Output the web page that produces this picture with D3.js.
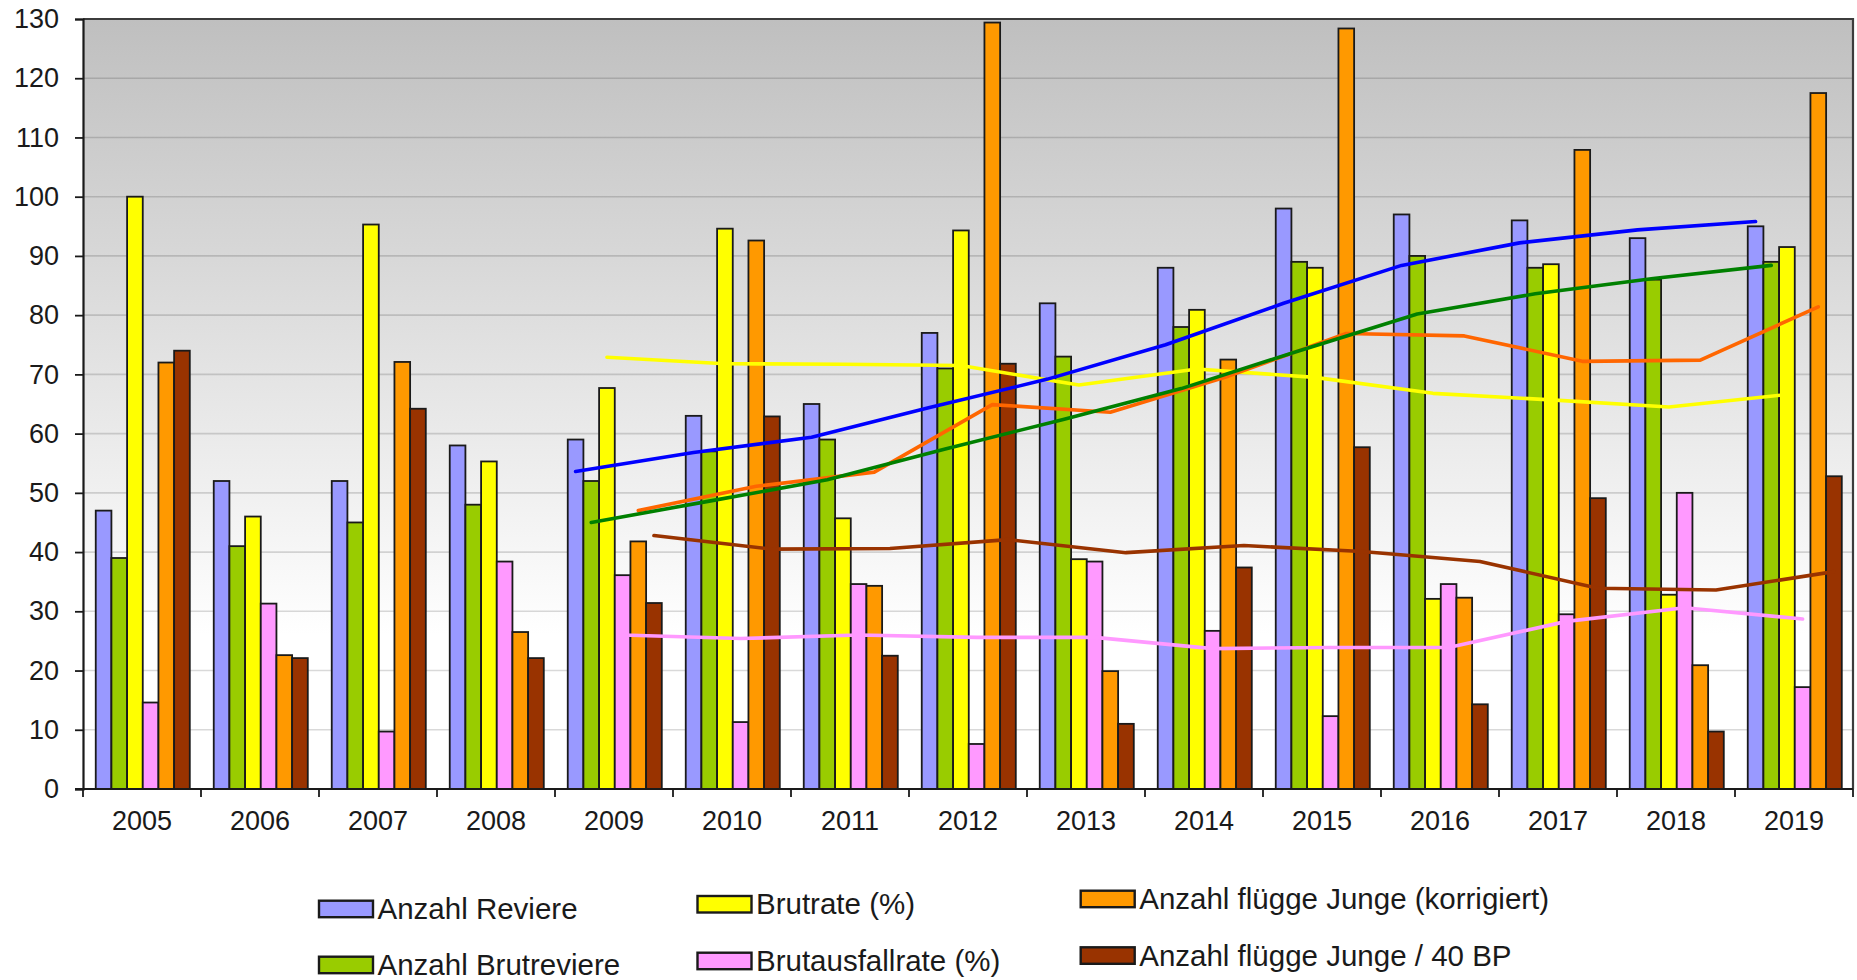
<!DOCTYPE html>
<html>
<head>
<meta charset="utf-8">
<script src="https://cdn.jsdelivr.net/npm/d3@7"></script>
<style>
  html, body { margin: 0; padding: 0; background: #ffffff; }
  svg { display: block; font-family: "Liberation Sans", Arial, sans-serif; }
</style>
</head>
<body>
<svg id="chart" width="1857" height="980"></svg>
<script>
// ---------------- data ----------------
const years = [2005, 2006, 2007, 2008, 2009, 2010, 2011, 2012, 2013, 2014, 2015, 2016, 2017, 2018, 2019];
const yTicks = [0, 10, 20, 30, 40, 50, 60, 70, 80, 90, 100, 110, 120, 130];

const seriesNames = [
  "Anzahl Reviere",
  "Anzahl Brutreviere",
  "Brutrate (%)",
  "Brutausfallrate (%)",
  "Anzahl flügge Junge (korrigiert)",
  "Anzahl flügge Junge / 40 BP"
];
const anzahlReviere      = [47, 52, 52, 58, 59, 63, 65, 77, 82, 88, 98, 97, 96, 93, 95];
const anzahlBrutreviere  = [39, 41, 45, 48, 52, 57, 59, 71, 73, 78, 89, 90, 88, 86, 89];
const brutrate           = [100, 46, 95.3, 55.3, 67.7, 94.6, 45.7, 94.3, 38.8, 80.9, 88, 32.1, 88.6, 32.8, 91.5];
const brutausfallrate    = [14.6, 31.3, 9.7, 38.4, 36.1, 11.3, 34.6, 7.6, 38.4, 26.7, 12.3, 34.6, 29.5, 50, 17.2];
const jungeKorrigiert    = [72, 22.6, 72.1, 26.5, 41.8, 92.6, 34.3, 129.4, 19.9, 72.5, 128.4, 32.3, 107.9, 20.9, 117.5];
const junge40BP          = [74, 22.1, 64.2, 22.1, 31.4, 62.9, 22.5, 71.8, 11, 37.4, 57.7, 14.3, 49.1, 9.7, 52.8];

// trend lines, 2009..2019
const trendYears            = [2009, 2010, 2011, 2012, 2013, 2014, 2015, 2016, 2017, 2018, 2019];
const trendReviere          = [53.6, 56.8, 59.4, 64.4, 69.2, 75.0, 82.0, 88.4, 92.2, 94.4, 95.8];
const trendBrutreviere      = [45.0, 48.6, 52.2, 57.4, 62.4, 67.6, 74.0, 80.2, 83.6, 86.2, 88.4];
const trendBrutrate         = [72.9, 71.8, 71.7, 71.5, 68.2, 70.9, 69.5, 66.8, 65.7, 64.5, 66.6];
const trendBrutausfallrate  = [26.0, 25.4, 26.0, 25.6, 25.6, 23.7, 23.9, 23.9, 28.3, 30.6, 28.7];
const trendJungeKorrigiert  = [47.0, 51.1, 53.5, 64.9, 63.6, 69.7, 76.9, 76.5, 72.2, 72.4, 81.4];
const trendJunge40BP        = [42.8, 40.5, 40.6, 42.1, 39.9, 41.1, 40.1, 38.4, 33.9, 33.6, 36.7];

// ---------------- styles ----------------
const barColors  = ["#9999ff", "#99cc00", "#ffff00", "#ff99ff", "#ff9900", "#993300"];
const lineColors = ["#0000ff", "#008000", "#ffff00", "#ff99ff", "#ff6600", "#993300"];

const seriesValues = [anzahlReviere, anzahlBrutreviere, brutrate, brutausfallrate, jungeKorrigiert, junge40BP];
const trendValues  = [trendReviere, trendBrutreviere, trendBrutrate, trendBrutausfallrate, trendJungeKorrigiert, trendJunge40BP];

const plot = { left: 83, right: 1853, top: 19, bottom: 789 };

const svg = d3.select("#chart");

const x0 = d3.scaleBand().domain(years).range([plot.left, plot.right]).padding(0);
const bw = x0.bandwidth();
const x1 = d3.scaleBand().domain(d3.range(seriesNames.length)).range([bw * 0.108, bw * 0.905]).padding(0);
const y = d3.scaleLinear().domain([0, 130]).range([plot.bottom, plot.top]);

// background gradient
const defs = svg.append("defs");
const grad = defs.append("linearGradient").attr("id", "bg").attr("x1", 0).attr("y1", 0).attr("x2", 0).attr("y2", 1);
grad.append("stop").attr("offset", "0%").attr("stop-color", "#bfbfbf");
grad.append("stop").attr("offset", "80%").attr("stop-color", "#ffffff");
grad.append("stop").attr("offset", "100%").attr("stop-color", "#ffffff");

svg.append("rect")
  .attr("x", plot.left).attr("y", plot.top)
  .attr("width", plot.right - plot.left).attr("height", plot.bottom - plot.top)
  .attr("fill", "url(#bg)");

// gridlines
svg.append("g").selectAll("line").data(yTicks.filter(d => d > 0 && d < 130)).join("line")
  .attr("x1", plot.left).attr("x2", plot.right)
  .attr("y1", d => y(d)).attr("y2", d => y(d))
  .attr("stroke", "#000").attr("stroke-opacity", 0.15).attr("stroke-width", 1.6);

// bars
const groups = svg.append("g").selectAll("g").data(years).join("g")
  .attr("transform", d => `translate(${x0(d)},0)`);
groups.selectAll("rect")
  .data((yr, i) => seriesValues.map((arr, s) => ({ s, v: arr[i] })))
  .join("rect")
  .attr("x", d => x1(d.s))
  .attr("y", d => y(d.v))
  .attr("width", x1.bandwidth())
  .attr("height", d => y(0) - y(d.v))
  .attr("fill", d => barColors[d.s])
  .attr("stroke", "#1a1a1a")
  .attr("stroke-width", 1.8);

// plot frame (top & right dark gray)
svg.append("path")
  .attr("d", `M${plot.left},${plot.top}H${plot.right}V${plot.bottom}`)
  .attr("fill", "none").attr("stroke", "#3c3c3c").attr("stroke-width", 2.2);

// trend lines
const lineOrder = [2, 3, 5, 4, 1, 0];
lineOrder.forEach(s => {
  const pts = trendYears.map((yr, i) => [x0(yr) + x1(s) + x1.bandwidth() / 2, y(trendValues[s][i])]);
  svg.append("path")
    .datum(pts)
    .attr("d", d3.line())
    .attr("fill", "none")
    .attr("stroke", lineColors[s])
    .attr("stroke-width", 3.6)
    .attr("stroke-linejoin", "round")
    .attr("stroke-linecap", "round");
});

// y axis
const yAxis = d3.axisLeft(y).tickValues(yTicks).tickSize(8).tickPadding(16).tickFormat(d3.format("d"));
const gy = svg.append("g").attr("transform", `translate(${plot.left},0)`).call(yAxis);
gy.select(".domain").attr("stroke", "#1a1a1a").attr("stroke-width", 2.2);
gy.selectAll(".tick line").attr("stroke", "#1a1a1a").attr("stroke-width", 1.8);
gy.selectAll(".tick text").attr("font-size", 27).attr("fill", "#1a1a1a")
  .attr("font-family", "'Liberation Sans', Arial, sans-serif");

// x axis (labels centred, ticks at category boundaries)
const xAxis = d3.axisBottom(x0).tickSize(0).tickPadding(22);
const gx = svg.append("g").attr("transform", `translate(0,${plot.bottom})`).call(xAxis);
gx.select(".domain").remove();
gx.selectAll(".tick text").attr("font-size", 27).attr("fill", "#1a1a1a")
  .attr("font-family", "'Liberation Sans', Arial, sans-serif");

const boundaries = years.map(d => x0(d)).concat([x0(years[years.length - 1]) + bw]);
svg.append("line")
  .attr("x1", plot.left - 8).attr("x2", plot.right)
  .attr("y1", plot.bottom).attr("y2", plot.bottom)
  .attr("stroke", "#1a1a1a").attr("stroke-width", 2.2);
svg.append("g").selectAll("line").data(boundaries).join("line")
  .attr("x1", d => d).attr("x2", d => d)
  .attr("y1", plot.bottom).attr("y2", plot.bottom + 8)
  .attr("stroke", "#1a1a1a").attr("stroke-width", 1.8);

// legend
const legendItems = [
  { s: 0, x: 319,   y: 900.7 },
  { s: 1, x: 319,   y: 956.7 },
  { s: 2, x: 697.5, y: 896 },
  { s: 3, x: 697.5, y: 952.7 },
  { s: 4, x: 1080.7, y: 890.7 },
  { s: 5, x: 1080.7, y: 947.3 }
];
const lg = svg.append("g").selectAll("g").data(legendItems).join("g")
  .attr("transform", d => `translate(${d.x},${d.y})`);
lg.append("rect")
  .attr("x", 0).attr("y", 0).attr("width", 54).attr("height", 16.5)
  .attr("fill", d => barColors[d.s])
  .attr("stroke", "#1a1a1a").attr("stroke-width", 2.4);
lg.append("text")
  .attr("x", 58.5).attr("y", 18.2)
  .attr("font-size", 29.5)
  .attr("fill", "#1a1a1a")
  .text(d => seriesNames[d.s]);
</script>
</body>
</html>
